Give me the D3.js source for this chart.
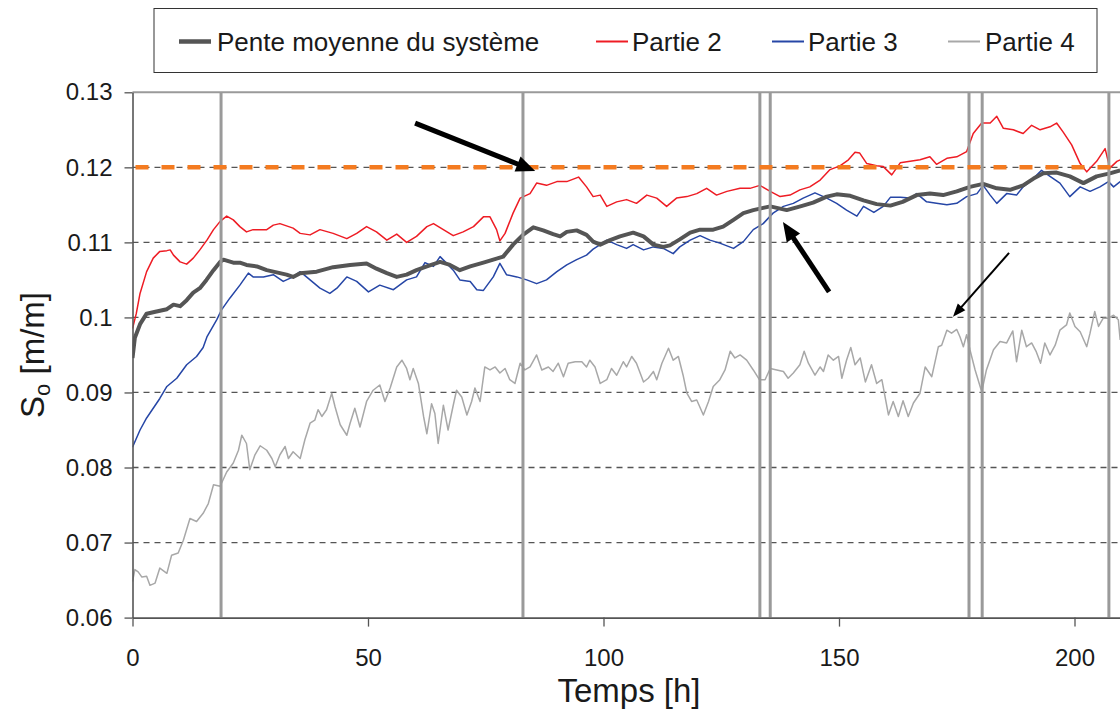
<!DOCTYPE html>
<html>
<head>
<meta charset="utf-8">
<script src="https://cdn.jsdelivr.net/npm/d3@7"></script>
<style>
  body { margin: 0; background: #fff; }
  svg text { font-family: "Liberation Sans", Arial, sans-serif; fill: #1a1a1a; }
</style>
</head>
<body>
<svg id="chart" width="1120" height="711"></svg>
<script>
// Pente moyenne du système : [temps (h), pente (m/m)]
const penteMoyenne = [
  [0,0.0946],[0.5,0.0973],[1.6,0.0991],[3,0.1005],[5.1,0.1008],[7.3,0.1011],[8.7,0.1017],[10.1,0.1015],
  [11.5,0.1023],[12.9,0.1033],[14.3,0.1039],[15.7,0.1050],[17.2,0.1063],[18.6,0.1074],[19.3,0.1077],
  [21.4,0.1073],[22.8,0.1073],[24.2,0.1070],[26.4,0.1068],[28.5,0.1063],[30.6,0.1060],[32.7,0.1057],
  [34.1,0.1054],[35.6,0.1059],[39.1,0.1061],[42.6,0.1067],[46.2,0.1070],[49.7,0.1072],[51.8,0.1065],
  [54.0,0.1059],[56.1,0.1054],[58.2,0.1057],[60.3,0.1063],[62.5,0.1068],[65.3,0.1074],[67.4,0.1070],
  [69.5,0.1063],[71.7,0.1068],[74.5,0.1073],[76.6,0.1077],[78.7,0.1081],[80.8,0.1097],[82.9,0.1110],
  [85.1,0.1120],[87.2,0.1116],[89.3,0.1111],[90.8,0.1108],[92.2,0.1114],[94.3,0.1116],[96.4,0.1110],
  [97.8,0.1101],[99.3,0.1097],[101.4,0.1103],[103.5,0.1108],[106.3,0.1113],[108.5,0.1108],[110.6,0.1097],
  [112.7,0.1094],[114.1,0.1096],[116.2,0.1104],[118.4,0.1113],[120.5,0.1117],[123.3,0.1117],[125.4,0.1121],
  [127.6,0.1130],[129.7,0.1139],[131.8,0.1143],[133.9,0.1146],[135.4,0.1148],[137.5,0.1145],[138.9,0.1143],
  [141.8,0.1148],[144.5,0.1153],[147.4,0.1161],[149.5,0.1164],[152.4,0.1162],[155.2,0.1156],[158.0,0.1151],
  [160.9,0.1149],[163.5,0.1154],[166.5,0.1163],[169.3,0.1165],[172.1,0.1163],[175,0.1168],[177.8,0.1174],
  [180.6,0.1178],[183.5,0.1172],[186.3,0.1170],[189.1,0.1176],[191.3,0.1185],[193.4,0.1192],[196.2,0.1193],
  [199,0.1188],[201.9,0.1179],[204.7,0.1188],[207.5,0.1192],[209.7,0.1196]
];

// Partie 2
const partie2 = [
  [0,0.0985],[0.8,0.1005],[1.6,0.1032],[3,0.1061],[4.4,0.1079],[5.8,0.1088],[7.3,0.1089],[8,0.1090],
  [8.7,0.1083],[10.1,0.1074],[11.5,0.1071],[12.9,0.1079],[14.3,0.1090],[15.8,0.1103],[17.2,0.1117],
  [18.6,0.1128],[20,0.1135],[21.4,0.1130],[22.8,0.1121],[24.2,0.1114],[25.6,0.1117],[27.1,0.1117],
  [28.5,0.1117],[29.9,0.1123],[31.3,0.1125],[32.7,0.1122],[34.1,0.1119],[35.6,0.1112],[37.7,0.1110],
  [39.8,0.1117],[42.6,0.1112],[45.5,0.1105],[47.6,0.1112],[49.7,0.1121],[51.8,0.1114],[54,0.1103],
  [56.1,0.1111],[58.2,0.1100],[60.3,0.1108],[62.5,0.1121],[63.9,0.1125],[66,0.1117],[68.1,0.1109],
  [70.2,0.1114],[72.4,0.1121],[74.5,0.1134],[75.9,0.1134],[77.3,0.1117],[78,0.1102],[79.1,0.1112],
  [80.8,0.1139],[82.3,0.1159],[84.4,0.1165],[85.8,0.1179],[87.9,0.1176],[90.1,0.1181],[92.2,0.1181],
  [94.7,0.1187],[96.4,0.1174],[97.8,0.1161],[99.3,0.1163],[100.7,0.1148],[102.8,0.1154],[104.9,0.1157],
  [107,0.1152],[109.2,0.1163],[111.3,0.1159],[113.4,0.1148],[115.5,0.1159],[117.7,0.1161],[119.8,0.1165],
  [121.9,0.1172],[124,0.1163],[126.2,0.1168],[129,0.1172],[131.1,0.1172],[133.2,0.1176],[135.4,0.1168],
  [137.5,0.1161],[139.6,0.1163],[141.7,0.1170],[143.8,0.1174],[146,0.1183],[148.1,0.1197],[150.2,0.1202],
  [152,0.1210],[153.4,0.1220],[154.4,0.1219],[155.9,0.1205],[158,0.1202],[159.4,0.1201],[161.2,0.1190],
  [163,0.1206],[165.1,0.1208],[167.2,0.1210],[169.3,0.1214],[170.7,0.1204],[172.9,0.1212],[175,0.1214],
  [177.1,0.1221],[178.5,0.1245],[180.3,0.1259],[182.1,0.1259],[183.5,0.1268],[184.9,0.1252],[187,0.1250],
  [189.1,0.1245],[190.9,0.1256],[192.7,0.1250],[194.8,0.1254],[196.2,0.1259],[197.6,0.1247],[199.4,0.1230],
  [201.2,0.1205],[202.6,0.1194],[204.7,0.1208],[206.5,0.1225],[207.5,0.1199],[209,0.1208],[209.7,0.1210]
];

// Partie 3
const partie3 = [
  [0,0.0827],[1.6,0.0850],[3,0.0866],[4.4,0.0879],[5.8,0.0892],[7.3,0.0908],[9.4,0.0919],[11.5,0.0937],
  [13.6,0.0948],[15,0.0960],[15.8,0.0974],[17.9,0.0997],[18.9,0.1010],[20.7,0.1026],[22.8,0.1043],
  [24.6,0.1059],[25.6,0.1054],[27.8,0.1054],[29.9,0.1057],[32,0.1048],[34.1,0.1054],[35.6,0.1061],
  [37.7,0.1050],[39.8,0.1039],[41.9,0.1032],[43.4,0.1039],[45.5,0.1054],[47.6,0.1048],[50.1,0.1034],
  [52.5,0.1043],[55.4,0.1037],[58.2,0.1050],[60.3,0.1054],[62.1,0.1073],[63.9,0.1068],[65.3,0.1081],
  [66.7,0.1072],[68.1,0.1063],[69.5,0.1050],[71.7,0.1048],[73.1,0.1037],[74.5,0.1036],[76.6,0.1054],
  [78,0.1072],[79.4,0.1057],[81.6,0.1054],[83.7,0.1050],[85.8,0.1045],[87.9,0.1050],[90.1,0.1061],
  [92.2,0.1070],[94.3,0.1077],[96.4,0.1083],[97.8,0.1091],[99.3,0.1097],[100.7,0.1103],[102.8,0.1097],
  [104.9,0.1092],[106.3,0.1097],[108.5,0.1090],[110.6,0.1094],[112.7,0.1092],[114.8,0.1085],[116.2,0.1094],
  [118.4,0.1103],[120.5,0.1109],[122.6,0.1103],[124.7,0.1099],[127.6,0.1092],[129.7,0.1101],[131.8,0.1117],
  [133.9,0.1125],[136,0.1139],[138.2,0.1148],[140.3,0.1152],[142.4,0.1159],[144.9,0.1166],[147.4,0.1159],
  [149.5,0.1152],[151.6,0.1143],[153.8,0.1135],[155.2,0.1148],[157.4,0.1140],[159.4,0.1148],[160.9,0.1160],
  [163,0.1160],[165.1,0.1159],[166.5,0.1165],[168.6,0.1154],[170.7,0.1152],[172.9,0.1150],[175,0.1152],
  [177.1,0.1161],[179.3,0.1165],[180.6,0.1176],[182.1,0.1163],[183.5,0.1152],[185.6,0.1165],[187.7,0.1163],
  [189.1,0.1174],[190.9,0.1183],[193,0.1196],[194.8,0.1188],[196.9,0.1179],[199,0.1161],[201.2,0.1174],
  [203.3,0.1168],[205.4,0.1174],[207.2,0.1181],[208.3,0.1174],[209.7,0.1181]
];

// Partie 4
const partie4 = [
  [0,0.0648],[0.5,0.0664],[1.2,0.0661],[2,0.0654],[3,0.0655],[3.7,0.0643],[4.8,0.0646],[5.8,0.0666],
  [7.3,0.0659],[8.3,0.0683],[9.7,0.0686],[10.8,0.0703],[12.2,0.0732],[13.6,0.0728],[15,0.0739],
  [16.1,0.0752],[17.2,0.0777],[18.6,0.0775],[20,0.0794],[21.4,0.0806],[22.5,0.0823],[23.2,0.0843],
  [24.2,0.0832],[24.9,0.0797],[26,0.0817],[27.1,0.0829],[28.5,0.0823],[29.6,0.0812],[30.3,0.0801],
  [31.3,0.0817],[32.4,0.0828],[33.1,0.0812],[34.1,0.0821],[35.6,0.0812],[36.6,0.0837],[37.7,0.0859],
  [38.7,0.0863],[39.4,0.0877],[40.2,0.0868],[41.2,0.0877],[42.3,0.0899],[43,0.0881],[44.1,0.0857],
  [45.5,0.0843],[46.2,0.0859],[47.2,0.0879],[48.3,0.0854],[49.7,0.0888],[51.1,0.0903],[52.5,0.0910],
  [53.6,0.0888],[54.7,0.0906],[56.1,0.0934],[57.2,0.0943],[58.2,0.0932],[58.9,0.0917],[59.6,0.0932],
  [60.7,0.0912],[61.8,0.0868],[62.5,0.0845],[63.5,0.0885],[64.2,0.0872],[64.9,0.0832],[66,0.0883],
  [67,0.0850],[68.1,0.0883],[68.8,0.0903],[69.9,0.0894],[71,0.0870],[72,0.0888],[72.7,0.0906],
  [73.8,0.0888],[74.8,0.0934],[75.9,0.0930],[77,0.0934],[78,0.0926],[79.1,0.0932],[80.1,0.0917],
  [81.2,0.0912],[82.3,0.0939],[83.3,0.0930],[84.4,0.0934],[85.8,0.0950],[86.9,0.0930],[88.3,0.0934],
  [89.3,0.0928],[90.4,0.0939],[91.5,0.0921],[92.5,0.0939],[94,0.0941],[95.4,0.0941],[96.4,0.0934],
  [97.1,0.0943],[98.2,0.0934],[99.3,0.0912],[100.7,0.0917],[101.7,0.0932],[102.8,0.0923],[104.2,0.0941],
  [104.9,0.0934],[106,0.0948],[107,0.0939],[108.5,0.0914],[109.5,0.0919],[110.6,0.0928],[111.3,0.0917],
  [112.4,0.0939],[113.8,0.0959],[114.8,0.0943],[115.9,0.0948],[116.9,0.0923],[117.7,0.0899],[118.7,0.0888],
  [119.8,0.0890],[121.2,0.0870],[122.3,0.0888],[123.3,0.0908],[124.7,0.0917],[125.8,0.0930],[126.9,0.0955],
  [127.9,0.0946],[129,0.0950],[130.4,0.0943],[131.8,0.0930],[133.1,0.0917],[134.3,0.0917],[135.4,0.0932],
  [136.8,0.0930],[138.2,0.0928],[139.2,0.0919],[140.3,0.0926],[141.7,0.0937],[142.6,0.0955],[143.5,0.0939],
  [144.9,0.0923],[146,0.0934],[146.7,0.0928],[147.7,0.0950],[148.8,0.0943],[149.9,0.0948],[150.6,0.0919],
  [151.6,0.0943],[152.5,0.0960],[153.4,0.0937],[154.5,0.0946],[155.6,0.0914],[156.9,0.0937],[158,0.0912],
  [159.1,0.0917],[160.5,0.0870],[161.5,0.0888],[162.6,0.0868],[163.6,0.0889],[164.7,0.0868],[165.8,0.0886],
  [167.2,0.0899],[168.3,0.0934],[169.7,0.0921],[171.1,0.0961],[171.8,0.0963],[172.9,0.0983],[173.9,0.0979],
  [175,0.0984],[175.7,0.0974],[176.4,0.0961],[177.1,0.0977],[177.8,0.0957],[178.9,0.0930],[180.3,0.0901],
  [181.3,0.0930],[182.8,0.0957],[184.2,0.0968],[185.6,0.0966],[186.9,0.0982],[187.7,0.0941],[188.8,0.0983],
  [189.8,0.0961],[190.9,0.0966],[191.9,0.0954],[192.8,0.0939],[193.7,0.0966],[194.8,0.0950],[195.9,0.0963],
  [196.9,0.0983],[198.3,0.0990],[199,0.1006],[200.1,0.0988],[201.2,0.0981],[202.6,0.0961],[203.3,0.0979],
  [204.3,0.1008],[205.1,0.0988],[206.1,0.0999],[207.2,0.0999],[208.3,0.1003],[209.3,0.0997],[209.7,0.0970]
];

// Instants des événements (h)
const evenements = [18.8, 82.9, 133.2, 135.4, 177.6, 180.4, 207.3];
// Pente de référence
const penteReference = 0.12;

const yTicks = [0.06, 0.07, 0.08, 0.09, 0.10, 0.11, 0.12, 0.13];
const xTicks = [0, 50, 100, 150, 200];

// Flèches d'annotation : origine -> pointe, en coordonnées (h, m/m)
const fleches = [
  { de: [60.0, 0.1259], a: [85.5, 0.1195], epais: 5, tete: [19, 8] },
  { de: [147.9, 0.1034], a: [138.1, 0.1127], epais: 5, tete: [19, 8] },
  { de: [186.1, 0.1086], a: [174.2, 0.1001], epais: 2, tete: [13, 5] }
];

const legende = [
  { nom: "Pente moyenne du système", couleur: "#555555", epais: 4.5, x: 179, lx: 217 },
  { nom: "Partie 2", couleur: "#ee1c24", epais: 2, x: 596, lx: 632 },
  { nom: "Partie 3", couleur: "#2646a6", epais: 2, x: 772, lx: 808 },
  { nom: "Partie 4", couleur: "#a8a8a8", epais: 2, x: 948, lx: 985 }
];

const W = 1120, H = 711;
const plotLeft = 132.5, plotTop = 92.3, plotBottom = 617.6;
const pxParHeure = 4.71;
const tMax = 210;

const svg = d3.select("#chart");
svg.append("rect").attr("width", W).attr("height", H).attr("fill", "#fff");

const x = d3.scaleLinear().domain([0, tMax]).range([plotLeft, plotLeft + tMax * pxParHeure]);
const y = d3.scaleLinear().domain([0.06, 0.13]).range([plotBottom, plotTop]);

svg.append("defs").append("clipPath").attr("id", "zone")
  .append("rect").attr("x", plotLeft).attr("y", plotTop - 3)
  .attr("width", W - plotLeft).attr("height", plotBottom - plotTop + 3);

// Quadrillage horizontal
const grille = svg.append("g");
grille.selectAll("line.g").data(yTicks.filter(d => d > 0.06 && d < 0.13)).join("line")
  .attr("x1", plotLeft).attr("x2", W).attr("y1", d => y(d)).attr("y2", d => y(d))
  .attr("stroke", "#555").attr("stroke-width", 1.3).attr("stroke-dasharray", "6,5");
grille.append("line")
  .attr("x1", plotLeft).attr("x2", W).attr("y1", y(0.13)).attr("y2", y(0.13))
  .attr("stroke", "#9a9a9a").attr("stroke-width", 2);

// Séries
const plot = svg.append("g").attr("clip-path", "url(#zone)");
const ligne = d3.line().x(d => x(d[0])).y(d => y(d[1]));
const series = [
  { d: partie4, c: "#a8a8a8", w: 1.5 },
  { d: partie3, c: "#2646a6", w: 1.5 },
  { d: partie2, c: "#ee1c24", w: 1.5 },
  { d: penteMoyenne, c: "#555555", w: 4 }
];
series.forEach(s => {
  plot.append("path").datum(s.d).attr("d", ligne)
    .attr("fill", "none").attr("stroke", s.c).attr("stroke-width", s.w)
    .attr("stroke-linejoin", "round");
});

// Événements
plot.selectAll("line.ev").data(evenements).join("line")
  .attr("x1", d => x(d)).attr("x2", d => x(d)).attr("y1", plotTop).attr("y2", plotBottom)
  .attr("stroke", "#9a9a9a").attr("stroke-width", 3);

// Pente de référence
plot.append("line")
  .attr("x1", x(0) + 3).attr("x2", W).attr("y1", y(penteReference)).attr("y2", y(penteReference))
  .attr("stroke", "#f47b20").attr("stroke-width", 4.5).attr("stroke-dasharray", "13,13");

// Axes
const axeY = svg.append("g").attr("transform", `translate(${plotLeft},0)`)
  .call(d3.axisLeft(y).tickValues(yTicks).tickSize(8).tickSizeOuter(0).tickPadding(12)
    .tickFormat(d => String(+d.toFixed(2))));
const axeX = svg.append("g").attr("transform", `translate(0,${plotBottom})`)
  .call(d3.axisBottom(x).tickValues(xTicks).tickSize(9).tickSizeOuter(0).tickPadding(22));
[axeY, axeX].forEach(a => {
  a.select(".domain").attr("stroke", "#555").attr("stroke-width", 1.6);
  a.selectAll(".tick line").attr("stroke", "#555").attr("stroke-width", 1.3);
  a.selectAll(".tick text").attr("font-size", 24).attr("fill", "#1a1a1a")
    .attr("font-family", "'Liberation Sans', Arial, sans-serif");
});

// Titres d'axes
svg.append("text").attr("x", 629).attr("y", 702).attr("text-anchor", "middle")
  .attr("font-size", 33).text("Temps [h]");
const ty = svg.append("text").attr("transform", "translate(44,355) rotate(-90)")
  .attr("text-anchor", "middle").attr("font-size", 33);
ty.append("tspan").text("S");
ty.append("tspan").attr("font-size", 22).attr("dy", 6).text("o");
ty.append("tspan").attr("dy", -6).text(" [m/m]");

// Flèches
const gF = svg.append("g");
fleches.forEach(f => {
  const x0 = x(f.de[0]), y0 = y(f.de[1]), x1 = x(f.a[0]), y1 = y(f.a[1]);
  const ang = Math.atan2(y1 - y0, x1 - x0);
  const [L, hw] = f.tete;
  const bx = x1 - L * Math.cos(ang), by = y1 - L * Math.sin(ang);
  gF.append("line").attr("x1", x0).attr("y1", y0)
    .attr("x2", x1 - (L - 2) * Math.cos(ang)).attr("y2", y1 - (L - 2) * Math.sin(ang))
    .attr("stroke", "#000").attr("stroke-width", f.epais);
  const px = -Math.sin(ang) * hw, py = Math.cos(ang) * hw;
  gF.append("polygon")
    .attr("points", [[x1, y1], [bx + px, by + py], [bx - px, by - py]].map(p => p.join(",")).join(" "))
    .attr("fill", "#000");
});

// Légende
const gL = svg.append("g");
gL.append("rect").attr("x", 154).attr("y", 8.5).attr("width", 943).attr("height", 64)
  .attr("fill", "#fff").attr("stroke", "#333").attr("stroke-width", 1);
legende.forEach(l => {
  gL.append("line").attr("x1", l.x).attr("x2", l.x + 32).attr("y1", 41.5).attr("y2", 41.5)
    .attr("stroke", l.couleur).attr("stroke-width", l.epais);
  gL.append("text").attr("x", l.lx).attr("y", 50.5).attr("font-size", 26).text(l.nom);
});
</script>
</body>
</html>
